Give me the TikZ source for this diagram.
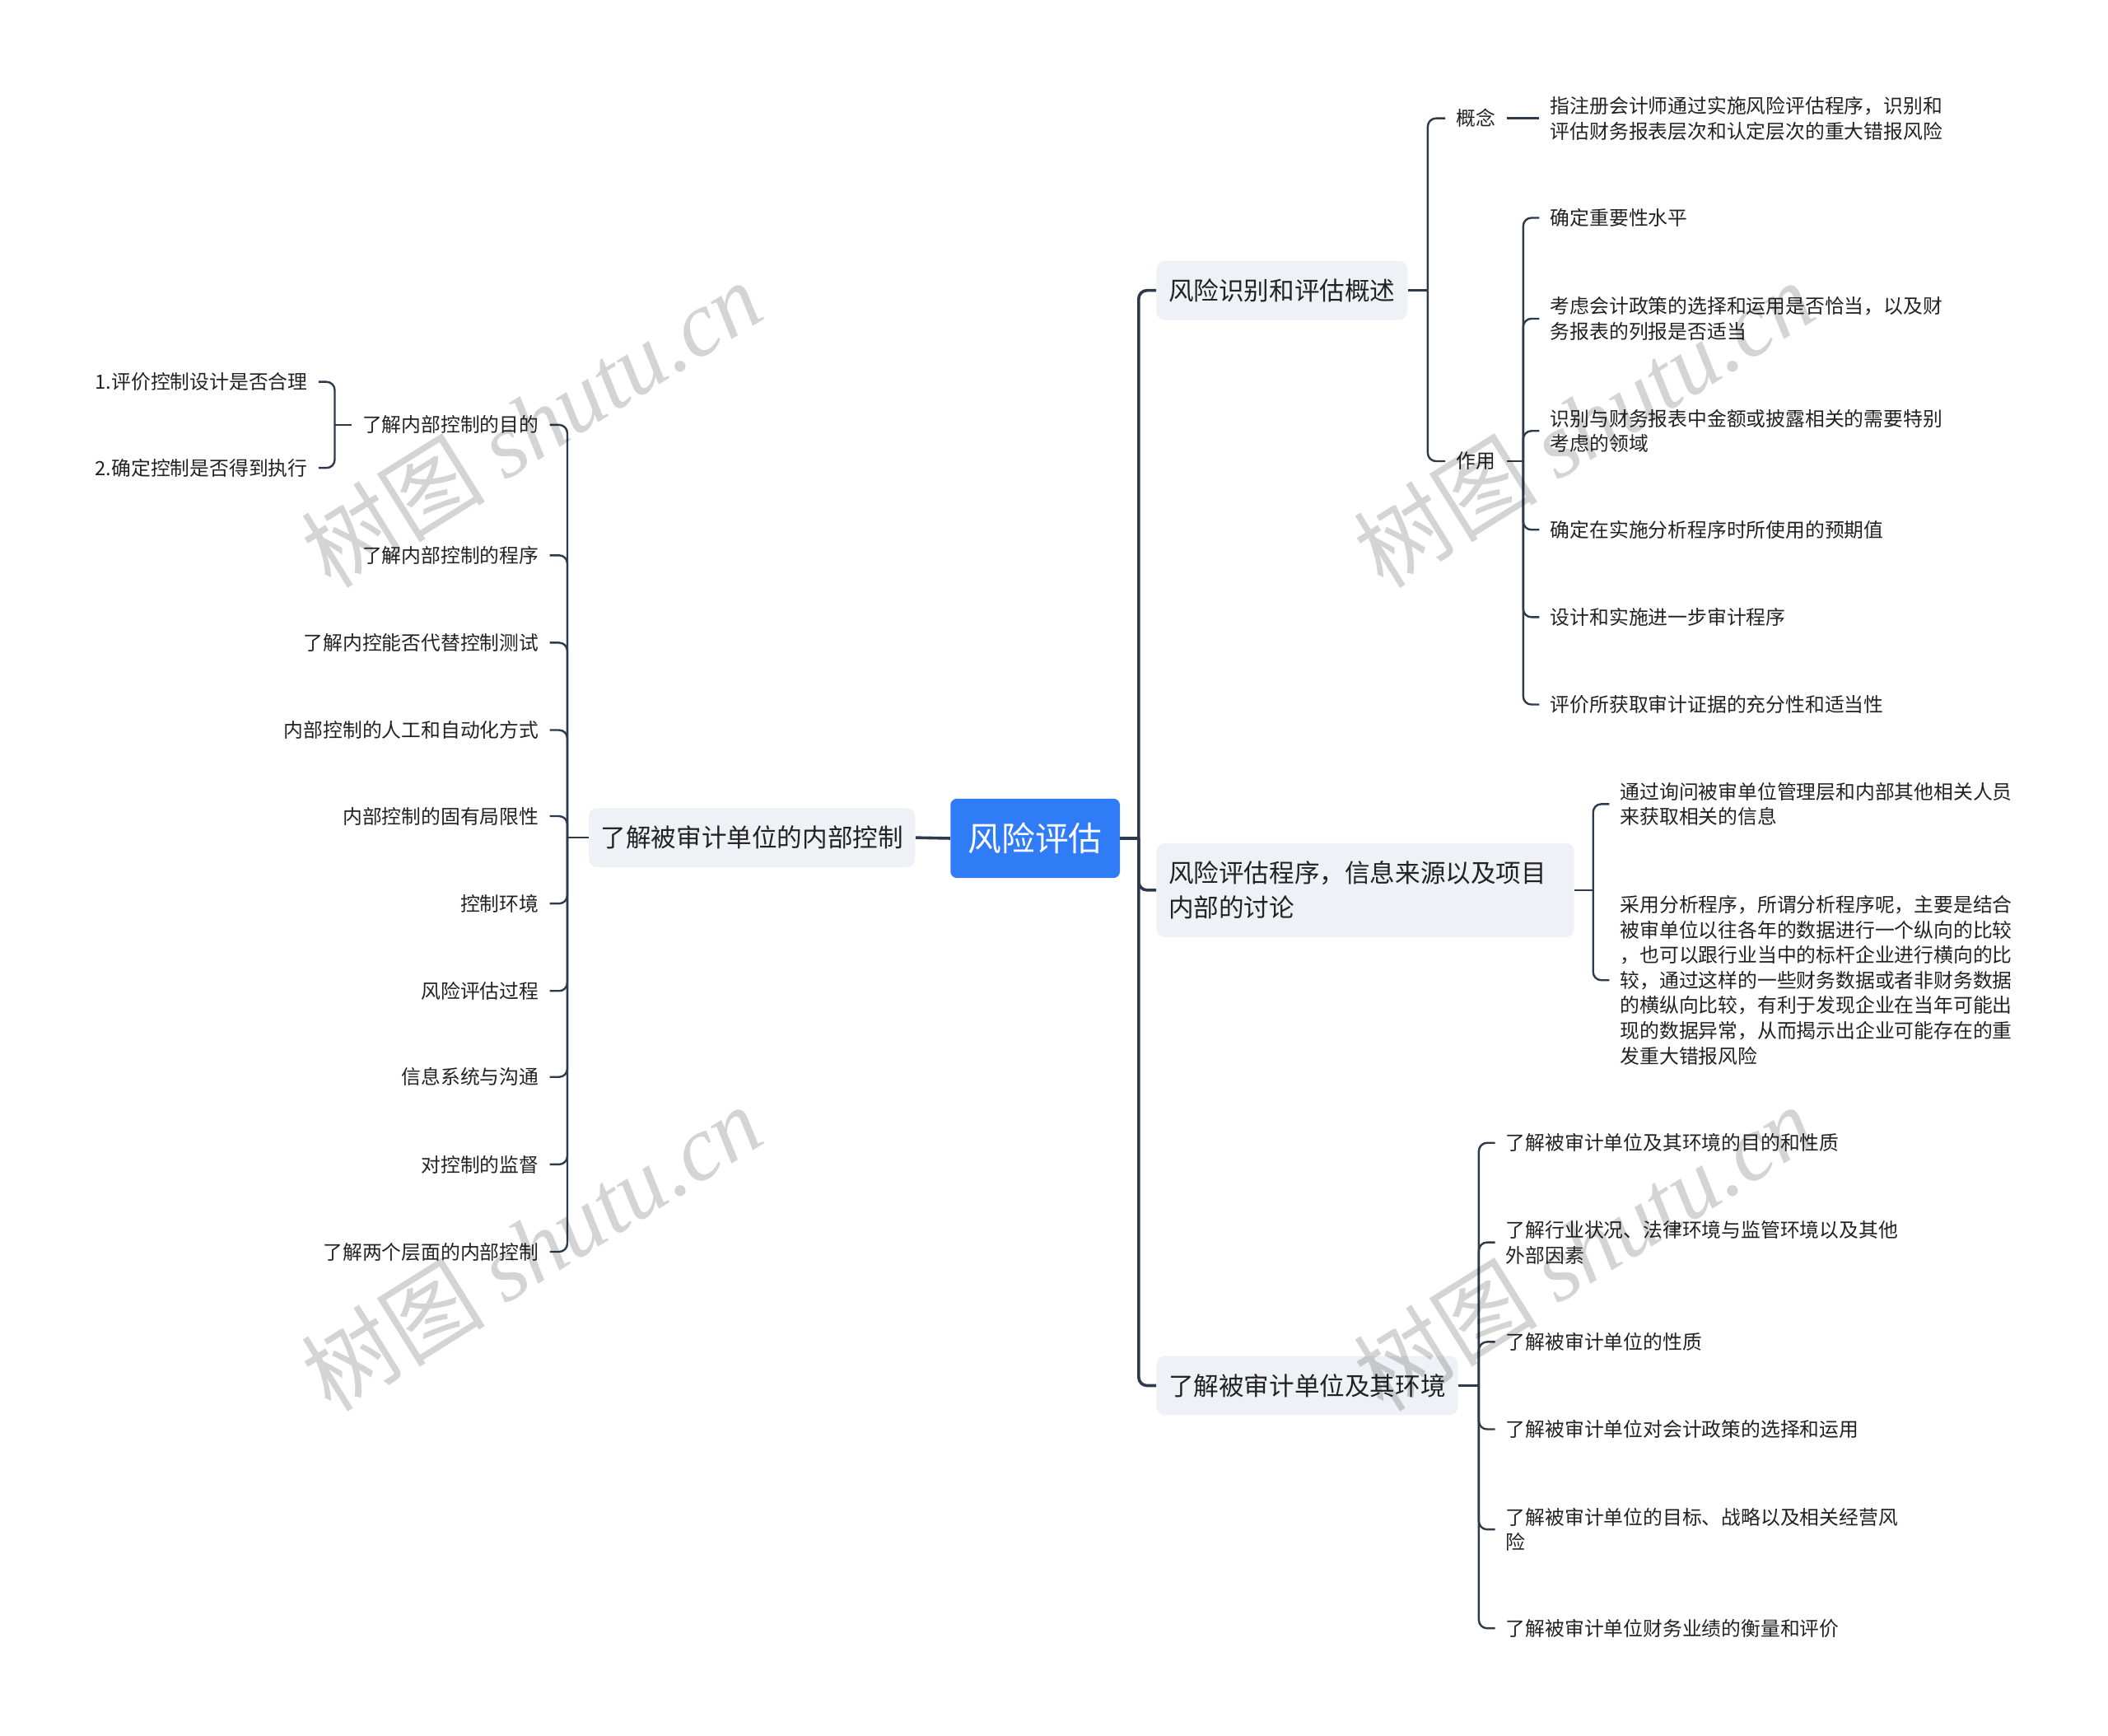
\documentclass[tikz,border=0pt]{standalone}
\usepackage{fontspec}
\setmainfont{Noto Sans CJK SC}
\newfontfamily\wmlatin{Liberation Serif}
\definecolor{lc}{HTML}{2D3A4C}
\definecolor{rootblue}{HTML}{2F7CF6}
\definecolor{boxgray}{HTML}{EEF1F5}
\definecolor{tx}{HTML}{222222}
\begin{document}
\begin{tikzpicture}[x=0.8163pt,y=-0.8163pt,
  rootnode/.style={fill=rootblue, text=white, rounded corners=4pt, font=\fontsize{20.4}{24}\selectfont, minimum width=102.9pt, minimum height=48.2pt, inner sep=0pt},
  mainnode/.style={fill=boxgray, text=tx, rounded corners=5pt, font=\fontsize{15.3}{21.2}\selectfont, inner xsep=7.3pt, minimum height=35.9pt, align=left},
  leaf/.style={text=tx, font=\fontsize{11.9}{15.3}\selectfont, inner sep=0pt, align=left},
  leafr/.style={leaf, anchor=west},
  leafl/.style={leaf, anchor=east, align=right},
  link/.style={draw=lc, line width=1.2pt, rounded corners=5pt},
  rootlink/.style={draw=lc, line width=1.8pt, rounded corners=5pt},
  wm/.style={rotate=32, text=black, text opacity=0.17, font=\fontsize{56}{60}\selectfont}
]
\useasboundingbox (0,0) rectangle (1568,1291);

% root and main nodes
\node[rootnode] (root) at (770,623.5) {风险评估};
\node[mainnode, anchor=east] (L) at (681,623) {了解被审计单位的内部控制};
\node[mainnode, anchor=west] (R1) at (860,216) {风险识别和评估概述};
\node[mainnode, anchor=west, text width=239pt, minimum height=57pt] (R2) at (860,662) {风险评估程序，信息来源以及项目\\内部的讨论};
\node[mainnode, anchor=west] (R3) at (860,1030.5) {了解被审计单位及其环境};

% left leaves
\node[leafl] (a1) at (401,316) {了解内部控制的目的};
\node[leafl] (a2) at (401,413) {了解内部控制的程序};
\node[leafl] (a3) at (401,478) {了解内控能否代替控制测试};
\node[leafl] (a4) at (401,543) {内部控制的人工和自动化方式};
\node[leafl] (a5) at (401,607) {内部控制的固有局限性};
\node[leafl] (a6) at (401,672) {控制环境};
\node[leafl] (a7) at (401,737) {风险评估过程};
\node[leafl] (a8) at (401,801) {信息系统与沟通};
\node[leafl] (a9) at (401,866) {对控制的监督};
\node[leafl] (a10) at (401,931) {了解两个层面的内部控制};
\node[leafl] (a11) at (229,284) {1.评价控制设计是否合理};
\node[leafl] (a12) at (229,348) {2.确定控制是否得到执行};

% R1 subtree
\node[leafr] (c1) at (1083,88) {概念};
\node[leafr] (c2) at (1083,343) {作用};
\node[leafr] (c11) at (1153,88) {指注册会计师通过实施风险评估程序，识别和\\评估财务报表层次和认定层次的重大错报风险};
\node[leafr] (c21) at (1153,162) {确定重要性水平};
\node[leafr] (c22) at (1153,237) {考虑会计政策的选择和运用是否恰当，以及财\\务报表的列报是否适当};
\node[leafr] (c23) at (1153,320.5) {识别与财务报表中金额或披露相关的需要特别\\考虑的领域};
\node[leafr] (c24) at (1153,394) {确定在实施分析程序时所使用的预期值};
\node[leafr] (c25) at (1153,459) {设计和实施进一步审计程序};
\node[leafr] (c26) at (1153,524) {评价所获取审计证据的充分性和适当性};

% R2 subtree
\node[leafr] (d1) at (1205,598) {通过询问被审单位管理层和内部其他相关人员\\来获取相关的信息};
\node[leafr] (d2) at (1205,729) {采用分析程序，所谓分析程序呢，主要是结合\\被审单位以往各年的数据进行一个纵向的比较\\，也可以跟行业当中的标杆企业进行横向的比\\较，通过这样的一些财务数据或者非财务数据\\的横纵向比较，有利于发现企业在当年可能出\\现的数据异常，从而揭示出企业可能存在的重\\发重大错报风险};

% R3 subtree
\node[leafr] (e1) at (1120,850) {了解被审计单位及其环境的目的和性质};
\node[leafr] (e2) at (1120,924) {了解行业状况、法律环境与监管环境以及其他\\外部因素};
\node[leafr] (e3) at (1120,998) {了解被审计单位的性质};
\node[leafr] (e4) at (1120,1063) {了解被审计单位对会计政策的选择和运用};
\node[leafr] (e5) at (1120,1137.5) {了解被审计单位的目标、战略以及相关经营风\\险};
\node[leafr] (e6) at (1120,1211) {了解被审计单位财务业绩的衡量和评价};

% root links
\draw[rootlink] (root.west) -- (L.east);
\draw[rootlink] (root.east) -- (847,623.5);
\foreach \n in {R1,R2,R3} \draw[rootlink] (847,623.5) |- (\n.west);

% left links
\draw[link] (L.west) -- (422,623);
\foreach \n in {a1,a2,a3,a4,a5,a6,a7,a8,a9,a10} \draw[link] (422,623) |- ([xshift=6.5pt]\n.east);
\draw[link] ([xshift=-6.5pt]a1.west) -- (249,316);
\foreach \n in {a11,a12} \draw[link] (249,316) |- ([xshift=6.5pt]\n.east);

% R1 links
\draw[link] (R1.east) -- (1062,216);
\foreach \n in {c1,c2} \draw[link] (1062,216) |- ([xshift=-6.5pt]\n.west);
\draw[link] ([xshift=6.5pt]c1.east) -- ([xshift=-6.5pt]c11.west);
\draw[link] ([xshift=6.5pt]c2.east) -- (1133,343);
\foreach \n in {c21,c22,c23,c24,c25,c26} \draw[link] (1133,343) |- ([xshift=-6.5pt]\n.west);

% R2 links
\draw[link] (R2.east) -- (1185,662);
\foreach \n in {d1,d2} \draw[link] (1185,662) |- ([xshift=-6.5pt]\n.west);

% R3 links
\draw[link] (R3.east) -- (1100,1030.5);
\foreach \n in {e1,e2,e3,e4,e5,e6} \draw[link] (1100,1030.5) |- ([xshift=-6.5pt]\n.west);

% watermarks
\node[wm] (w1) at (395,315) {树图 {\wmlatin\itshape shutu.cn}};
\node[wm] (w2) at (395,928) {树图 {\wmlatin\itshape shutu.cn}};
\node[wm] (w3) at (1178,315) {树图 {\wmlatin\itshape shutu.cn}};
\node[wm] (w4) at (1178,928) {树图 {\wmlatin\itshape shutu.cn}};
\end{tikzpicture}
\end{document}
